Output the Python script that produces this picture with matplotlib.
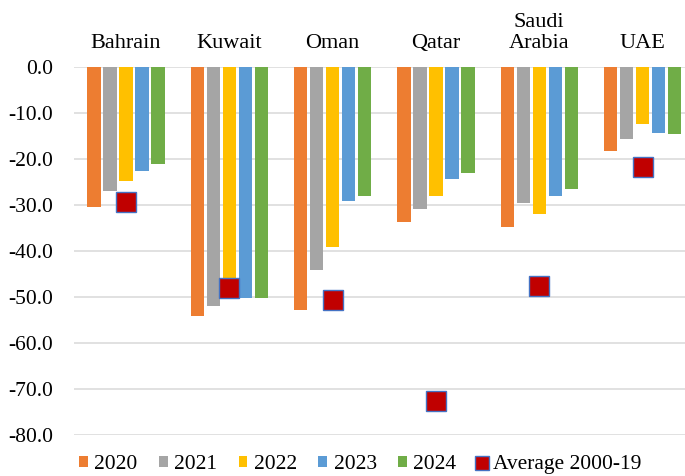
import numpy as np
import matplotlib.pyplot as plt
from matplotlib.lines import Line2D

plt.rcParams["font.family"] = ["Liberation Serif", "DejaVu Serif"]

countries = ["Bahrain", "Kuwait", "Oman", "Qatar", "Saudi\nArabia", "UAE"]
years = ["2020", "2021", "2022", "2023", "2024"]

v2020 = [-30.3, -54.2, -52.9, -33.6, -34.7, -18.1]
v2021 = [-26.9, -52.0, -44.1, -30.8, -29.5, -15.6]
v2022 = [-24.7, -48.0, -39.0, -28.1, -32.0, -12.3]
v2023 = [-22.6, -50.1, -29.1, -24.3, -28.0, -14.2]
v2024 = [-21.1, -50.1, -28.1, -23.0, -26.5, -14.5]
avg_2000_19 = [-29.3, -48.0, -50.6, -72.5, -47.5, -21.7]

series = [v2020, v2021, v2022, v2023, v2024]
colors = ["#ED7D31", "#A5A5A5", "#FFC000", "#5B9BD5", "#70AD47"]

fig = plt.figure(figsize=(6.85, 4.76), dpi=100)
ax = fig.add_axes([0.1085, 0.0861, 0.905, 0.7725])

x = np.arange(len(countries))
pitch = 0.155
width = 0.129
handles = []
for i, (vals, c, lab) in enumerate(zip(series, colors, years)):
    b = ax.bar(x + (i - 2) * pitch, vals, width=width, color=c, label=lab, zorder=2)
    handles.append(b)

ax.plot(x, avg_2000_19, linestyle="none", marker="s", markersize=14.5,
        markerfacecolor="#C00000", markeredgecolor="#4472C4",
        markeredgewidth=1.0, zorder=3, label="Average 2000-19")

ax.set_xlim(-0.5, 5.5)
ax.set_ylim(-80, 0)
yt = np.arange(-80, 1, 10)
ax.set_yticks(yt)
ax.set_yticklabels([f"{v:.1f}" for v in yt])
ax.yaxis.grid(True, color="#D9D9D9", linewidth=1.1)
ax.set_axisbelow(True)
for s in ax.spines.values():
    s.set_visible(False)

ax.xaxis.tick_top()
ax.set_xticks(x)
ax.set_xticklabels(countries)
ax.tick_params(axis="x", length=0, pad=10, labelsize=16)
ax.tick_params(axis="y", length=0, pad=15, labelsize=15.5)

leg_handles = handles + [Line2D([], [], linestyle="none", marker="s", markersize=9.5,
                                markerfacecolor="#C00000", markeredgecolor="#4472C4",
                                markeredgewidth=1.0)]
fig.legend(leg_handles, years + ["Average 2000-19"], loc="center",
           bbox_to_anchor=(0.526, 0.024), ncol=6, frameon=False, fontsize=15.5,
           handlelength=0.4, handleheight=0.4, handletextpad=0.3,
           columnspacing=1.0, borderaxespad=0, borderpad=0)

plt.savefig("out.png", dpi=100)
